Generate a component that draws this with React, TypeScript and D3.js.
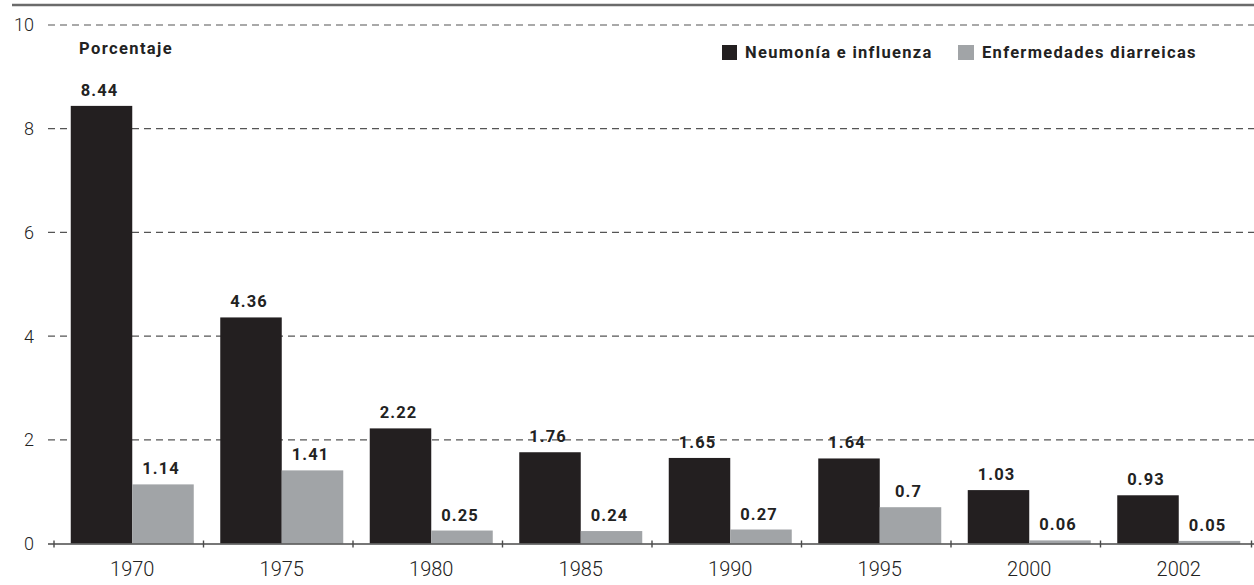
import React from "react";
import * as d3 from "d3";

const years = ["1970", "1975", "1980", "1985", "1990", "1995", "2000", "2002"];
const neumonia = [8.44, 4.36, 2.22, 1.76, 1.65, 1.64, 1.03, 0.93];
const diarreicas = [1.14, 1.41, 0.25, 0.24, 0.27, 0.7, 0.06, 0.05];
const seriesNames = ["Neumonía e influenza", "Enfermedades diarreicas"];
const seriesColors = ["#231f20", "#a1a4a7"];
const yTicks = [0, 2, 4, 6, 8, 10];

const W = 1254;
const H = 585;

export default function App() {
  const x0 = d3.scaleBand<string>().domain(years).range([57.5, 1253.5]).paddingInner(0).paddingOuter(0);
  const groupW = 123;
  const x1 = d3.scaleBand<string>().domain(seriesNames).range([0, groupW]);
  const y = d3.scaleLinear().domain([0, 10]).range([543.5, 25]);
  const font = "Roboto, 'DejaVu Sans', sans-serif";
  const data = [neumonia, diarreicas];
  const groupStart = (yr: string) => x0(yr)! + (x0.bandwidth() - groupW) / 2;
  const tickXs = [...years.map((yr) => x0(yr)! - 3.5), x0(years[years.length - 1])! + x0.bandwidth() - 2];

  return (
    <svg width={W} height={H} style={{ position: "absolute", left: 0, top: 0 }} fontFamily={font}>
      <rect x={0} y={0} width={W} height={H} fill="#fff" />
      {/* top rule */}
      <line x1={12} x2={W} y1={5} y2={5} stroke="#6b6b6b" strokeWidth={2.5} />
      {/* gridlines */}
      {yTicks.filter((t) => t > 0).map((t) => (
        <line key={t} x1={48} x2={W} y1={y(t)} y2={y(t)} stroke="#555" strokeWidth={1.2} strokeDasharray="7,5" />
      ))}
      {/* y tick labels */}
      {yTicks.map((t) => (
        <text key={t} x={34} y={y(t)} dy="0.36em" textAnchor="end" fontSize={18} fontWeight={300} fill="#222">
          {t}
        </text>
      ))}
      {/* bars */}
      {years.map((yr, i) => (
        <g key={yr} transform={`translate(${groupStart(yr)},0)`}>
          {seriesNames.map((s, j) => {
            const v = data[j][i];
            const bx = x1(s)!;
            return (
              <g key={s}>
                <rect x={bx} y={y(v)} width={x1.bandwidth()} height={y(0) - y(v)} fill={seriesColors[j]} />
                <text
                  x={bx + x1.bandwidth() / 2 - 2}
                  y={y(v) - 10}
                  textAnchor="middle"
                  fontSize={16.5}
                  fontWeight={700}
                  fill="#222"
                  letterSpacing={1.1}
                >
                  {String(v)}
                </text>
              </g>
            );
          })}
        </g>
      ))}
      {/* x axis */}
      <line x1={48} x2={W} y1={y(0) + 0.5} y2={y(0) + 0.5} stroke="#4a4a4a" strokeWidth={1.6} />
      {tickXs.map((tx, i) => (
        <line key={i} x1={tx} x2={tx} y1={y(0) - 3} y2={y(0) + 4} stroke="#4a4a4a" strokeWidth={1.4} />
      ))}
      {years.map((yr) => (
        <text key={yr} x={groupStart(yr) + groupW / 2} y={576} textAnchor="middle" fontSize={20} fontWeight={300} fill="#222">
          {yr}
        </text>
      ))}
      {/* axis title */}
      <text x={79} y={54} fontSize={16.5} fontWeight={700} fill="#222" letterSpacing={1.4}>
        Porcentaje
      </text>
      {/* legend */}
      <rect x={722} y={45} width={15} height={15} fill={seriesColors[0]} />
      <text x={745} y={58} fontSize={16.5} fontWeight={700} fill="#222" letterSpacing={1.3}>
        {seriesNames[0]}
      </text>
      <rect x={958} y={45} width={16} height={15} fill={seriesColors[1]} />
      <text x={982} y={58} fontSize={16.5} fontWeight={700} fill="#222" letterSpacing={1.3}>
        {seriesNames[1]}
      </text>
    </svg>
  );
}
